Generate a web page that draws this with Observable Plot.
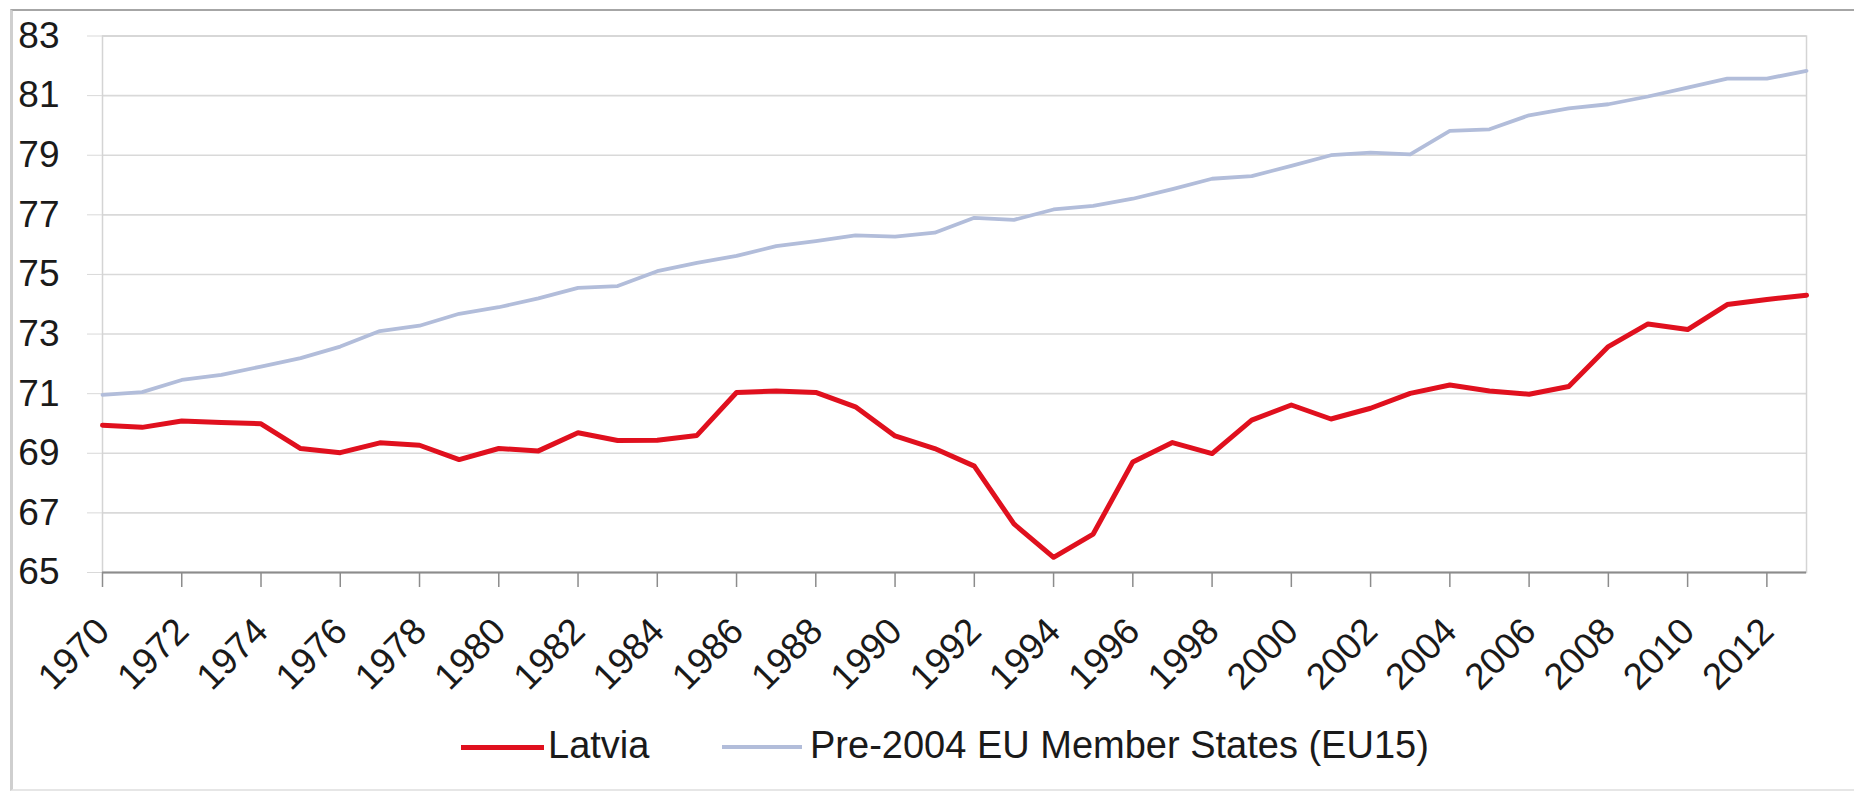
<!DOCTYPE html>
<html>
<head>
<meta charset="utf-8">
<script src="https://cdn.jsdelivr.net/npm/d3@7"></script>
<script src="https://cdn.jsdelivr.net/npm/@observablehq/plot@0.6"></script>
<style>
  html, body { margin: 0; padding: 0; background: #fff; }
  body { width: 1854px; height: 805px; position: relative; overflow: hidden; font-family: "Liberation Sans", Arial, sans-serif; }
  #frame { position: absolute; left: 10px; top: 9px; width: 1860px; height: 782px;
           border-top: 2px solid #a6a6a6; border-left: 3px solid #cfcfcf; border-bottom: 2px solid #e6e6e6; box-sizing: border-box; }
  #chart { position: absolute; left: 0; top: 0; }
  .leg { position: absolute; font-size: 38px; color: #1a1a1a; line-height: 40px; top: 725px; white-space: nowrap; }
  .sw { position: absolute; height: 0; }
</style>
</head>
<body>
<div id="frame"></div>
<div id="chart"></div>
<div class="sw" style="left:461px; top:745px; width:83px; border-top:5px solid #e0101e;"></div>
<div class="leg" style="left:548px;">Latvia</div>
<div class="sw" style="left:722px; top:745px; width:80px; border-top:4px solid #b2bdda;"></div>
<div class="leg" style="left:810px;">Pre-2004 EU Member States (EU15)</div>
<script>
const years = d3.range(1970, 2014);
const latvia = [69.94, 69.87, 70.08, 70.03, 69.99, 69.16, 69.02, 69.35, 69.27, 68.79,
                69.16, 69.08, 69.69, 69.43, 69.44, 69.60, 71.04, 71.09, 71.04, 70.56,
                69.58, 69.16, 68.57, 66.63, 65.51, 66.29, 68.71, 69.36, 68.99, 70.11,
                70.62, 70.15, 70.51, 71.01, 71.29, 71.09, 70.98, 71.24, 72.58, 73.34,
                73.15, 73.99, 74.16, 74.30];
const eu15 = [70.96, 71.05, 71.46, 71.63, 71.91, 72.19, 72.58, 73.10, 73.28, 73.68,
              73.90, 74.20, 74.55, 74.61, 75.11, 75.39, 75.62, 75.95, 76.12, 76.31,
              76.27, 76.40, 76.90, 76.83, 77.18, 77.30, 77.54, 77.86, 78.21, 78.30,
              78.64, 79.00, 79.09, 79.03, 79.82, 79.87, 80.34, 80.57, 80.71, 80.97,
              81.27, 81.57, 81.57, 81.83];
const yTicks = [65, 67, 69, 71, 73, 75, 77, 79, 81, 83];
const xTickLabels = d3.range(1970, 2013, 2);

const latviaData = years.map((y, i) => ({year: y, value: latvia[i]}));
const euData = years.map((y, i) => ({year: y, value: eu15[i]}));

const chart = Plot.plot({
  width: 1854,
  height: 700,
  marginLeft: 102,
  marginRight: 48,
  marginTop: 35.5,
  marginBottom: 128,
  style: {fontFamily: "'Liberation Sans', Arial, sans-serif", fontSize: "37px", color: "#1a1a1a", background: "transparent"},
  x: {domain: [1970, 2013]},
  y: {domain: [65, 83]},
  marks: [
    Plot.ruleY(yTicks, {stroke: "#d9d9d9", strokeWidth: 1.6}),
    Plot.frame({stroke: "#d4d4d4", strokeWidth: 1.5}),
    Plot.axisY({ticks: yTicks, tickSize: 15, tickPadding: 28, stroke: "#d9d9d9", fill: "#1a1a1a", label: null}),
    Plot.axisX({ticks: xTickLabels, tickSize: 15, tickFormat: () => "", stroke: "#8c8c8c", strokeWidth: 1.5, label: null}),
    Plot.ruleY([65], {stroke: "#8c8c8c", strokeWidth: 2}),
    Plot.text(xTickLabels, {x: d => d, frameAnchor: "bottom", text: d => String(d), rotate: -45,
      textAnchor: "end", lineAnchor: "bottom", dx: 9, dy: 61, fill: "#1a1a1a"}),
    Plot.line(euData, {x: "year", y: "value", stroke: "#b2bdda", strokeWidth: 3.8}),
    Plot.line(latviaData, {x: "year", y: "value", stroke: "#e0101e", strokeWidth: 5})
  ]
});
document.getElementById("chart").appendChild(chart);
</script>
</body>
</html>
